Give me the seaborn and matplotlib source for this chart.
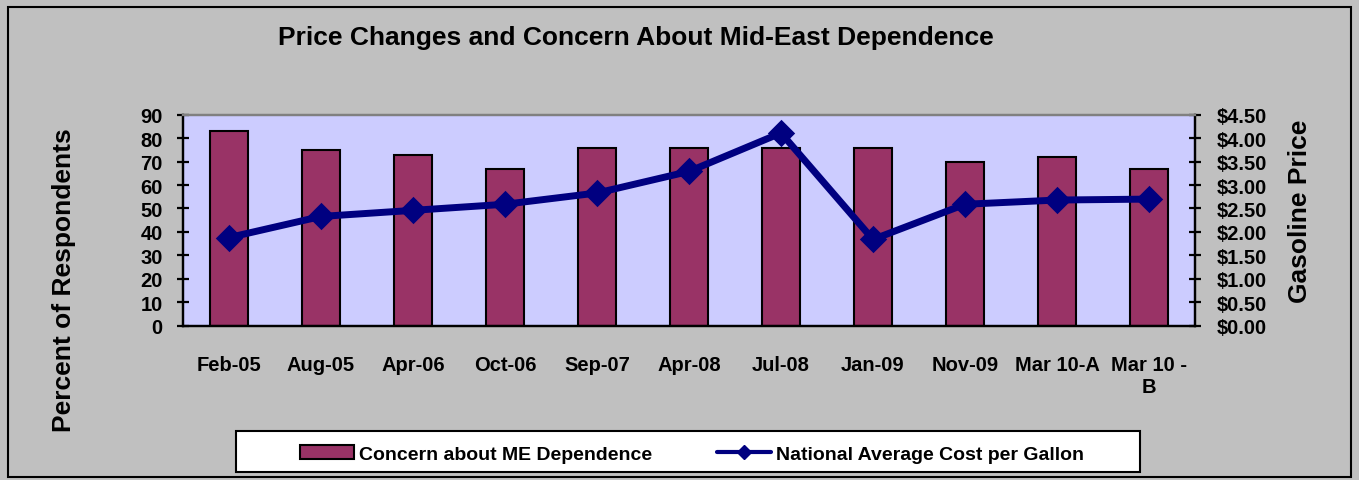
import matplotlib
matplotlib.use("Agg")
import matplotlib.pyplot as plt
from matplotlib.patches import Rectangle, Patch
from matplotlib.lines import Line2D
from matplotlib.ticker import FixedLocator, MultipleLocator, FuncFormatter
import seaborn as sns
import pandas as pd

# Survey waves
categories = ["Feb-05", "Aug-05", "Apr-06", "Oct-06", "Sep-07", "Apr-08",
              "Jul-08", "Jan-09", "Nov-09", "Mar 10-A", "Mar 10 -\nB"]
# Percent of respondents concerned about Mid-East dependence
concern = [83, 75, 73, 67, 76, 76, 76, 76, 70, 72, 67]
# National average gasoline price, $ per gallon
price = [1.88, 2.33, 2.46, 2.59, 2.83, 3.29, 4.11, 1.84, 2.59, 2.68, 2.70]

bar_label = "Concern about ME Dependence"
line_label = "National Average Cost per Gallon"

df = pd.DataFrame({"wave": categories, "concern": concern, "price": price})

sns.set_theme(style="white")
plt.rcParams["font.family"] = ["Liberation Sans", "DejaVu Sans"]
plt.rcParams["font.weight"] = "bold"
for key in ("text.color", "axes.labelcolor", "xtick.color", "ytick.color"):
    plt.rcParams[key] = "black"

BAR = "#993366"
LINE = "#000080"
BG = "#c0c0c0"
PLOT_BG = "#ccccff"
TICK_FS = 14.5

fig = plt.figure(figsize=(13.59, 4.81), dpi=100, facecolor=BG)
W, H = 1359, 481
ax = fig.add_axes([183 / W, 1 - 326.7 / H, (1195 - 183) / W, (326.7 - 115.7) / H])
ax.set_facecolor(PLOT_BG)

sns.barplot(data=df, x="wave", y="concern", ax=ax, color=BAR, width=0.415,
            edgecolor="black", linewidth=1.5, saturation=1)
ax.set_ylim(0, 90)
ax.set_xlim(-0.5, len(categories) - 0.5)
ax.yaxis.set_major_locator(MultipleLocator(10))
ax.set_xlabel("")
ax.set_ylabel("")

ax2 = ax.twinx()
sns.pointplot(data=df, x="wave", y="price", ax=ax2, color=LINE, markers="D",
              linestyles="-", linewidth=5, markersize=10)
ax2.set_ylim(0, 4.5)
ax2.set_xlim(-0.5, len(categories) - 0.5)
ax2.yaxis.set_major_locator(MultipleLocator(0.5))
ax2.yaxis.set_major_formatter(FuncFormatter(lambda v, p: f"${v:.2f}"))
ax2.set_ylabel("")
ax2.set_xlabel("")

# Spines: black left/bottom/right, grey top edge
for a in (ax, ax2):
    for side in ("left", "bottom", "right"):
        a.spines[side].set_color("black")
        a.spines[side].set_linewidth(1.6)
    a.spines["top"].set_color("#808080")
    a.spines["top"].set_linewidth(1.6)

# Category labels centered, tick marks on category boundaries
ax.tick_params(axis="x", which="major", length=0, pad=21, labelsize=TICK_FS)
ax.xaxis.set_minor_locator(FixedLocator([i + 0.5 for i in range(-1, len(categories))]))
ax.tick_params(axis="x", which="minor", direction="inout", length=9, width=1.6, color="black")
ax.tick_params(axis="y", direction="inout", length=9, width=1.6, color="black",
               labelsize=TICK_FS, pad=10, left=True)
ax2.tick_params(axis="y", direction="inout", length=9, width=1.6, color="black",
                labelsize=TICK_FS, pad=11, right=True)
for lbl in ax.get_xticklabels() + ax.get_yticklabels() + ax2.get_yticklabels():
    lbl.set_fontweight("bold")

# Axis titles
fig.text(64 / W, 1 - 280 / H, "Percent of Respondents", rotation=90,
         ha="center", va="center", fontsize=19, fontweight="bold")
fig.text(1300 / W, 1 - 211 / H, "Gasoline Price", rotation=90,
         ha="center", va="center", fontsize=19, fontweight="bold")

fig.text(636 / W, 1 - 38 / H, "Price Changes and Concern About Mid-East Dependence",
         ha="center", va="center", fontsize=19, fontweight="bold")

# Outer chart border
fig.patches.append(Rectangle((8 / W, 3 / H), 1343 / W, 470 / H, transform=fig.transFigure,
                             fill=False, edgecolor="black", linewidth=1.5))
# Legend box
fig.patches.append(Rectangle((236 / W, 1 - 473 / H), 904 / W, 41 / H, transform=fig.transFigure,
                             facecolor="white", edgecolor="black", linewidth=1.5))
handles = [Patch(facecolor=BAR, edgecolor="black", linewidth=1.5, label=bar_label),
           Line2D([], [], color=LINE, linewidth=3, marker="D", markersize=7, label=line_label)]
fig.legend(handles=handles, loc="center", bbox_to_anchor=(692 / W, 1 - 455 / H),
           ncol=2, frameon=False, handlelength=2.8, handleheight=0.7,
           handletextpad=0.26, columnspacing=3.3,
           prop={"weight": "bold", "size": 14})

fig.savefig("out.png", dpi=100, facecolor=BG)
